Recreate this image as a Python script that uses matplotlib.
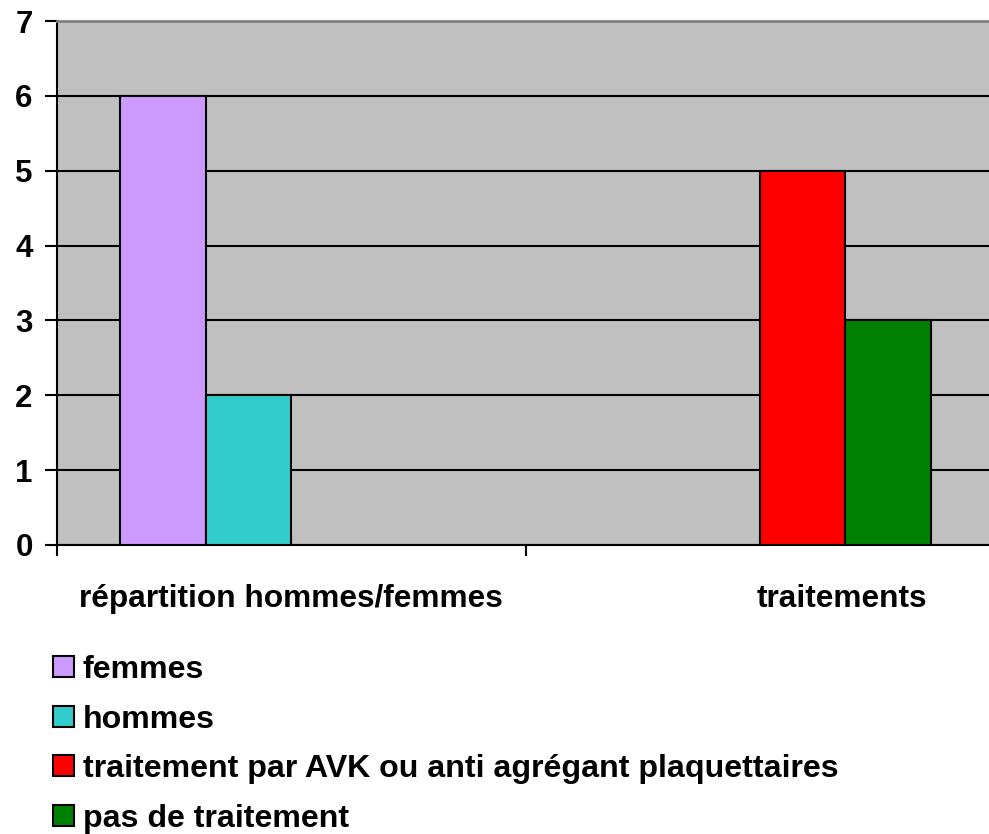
import matplotlib.pyplot as plt
import matplotlib.transforms as mtransforms
import numpy as np

# === Data ===
categories = ["répartition hommes/femmes", "traitements"]
series_names = ["femmes", "hommes",
                "traitement par AVK ou anti agrégant plaquettaires",
                "pas de traitement"]
femmes = [6, 0]
hommes = [2, 0]
avk = [0, 5]
pas_traitement = [0, 3]
colors = ["#CC99FF", "#33CCCC", "#FF0000", "#008000"]

plt.rcParams['font.family'] = ['Liberation Sans', 'DejaVu Sans']
plt.rcParams['font.weight'] = 'bold'
fs = 22.5

fig = plt.figure(figsize=(9.89, 8.34), dpi=100)
ax = fig.add_axes([57 / 989, 1 - 545 / 834, (994 - 57) / 989, (545 - 21) / 834])
ax.set_facecolor("#C0C0C0")

x = np.arange(len(categories)) + 0.5
width = 0.1825
all_series = [femmes, hommes, avk, pas_traitement]
handles = []
for i, (name, vals, col) in enumerate(zip(series_names, all_series, colors)):
    offs = (i - 1.5) * width
    for xi, v in zip(x, vals):
        if v > 0:
            ax.bar(xi + offs, v, width, color=col, edgecolor="black", linewidth=1.5, zorder=3)
    handles.append(plt.Rectangle((0, 0), 1, 1, facecolor=col, edgecolor="black", linewidth=1.5))

ax.set_xlim(0, 2)
ax.set_ylim(0, 7)
ax.set_yticks(range(0, 8))
ax.yaxis.grid(True, color="black", linewidth=1.5, zorder=1)
ax.set_axisbelow(True)

ax.set_xticks([0, 1, 2])
ax.set_xticklabels([])
ax.set_xticks(x, minor=True)
ax.set_xticklabels(categories, minor=True)
ax.tick_params(axis='x', which='minor', length=0, pad=28, labelsize=22.8)
ax.tick_params(axis='x', which='major', length=8, width=1.5, direction='out')
ax.tick_params(axis='y', length=8.5, width=1.5, labelsize=fs, pad=9)

# second category label sits right of centre in the original
lab = ax.get_xticklabels(minor=True)[1]
lab.set_transform(lab.get_transform() + mtransforms.ScaledTranslation(82 / 100, 0, fig.dpi_scale_trans))

for s in ["left", "bottom"]:
    ax.spines[s].set_color("black")
    ax.spines[s].set_linewidth(1.5)
ax.spines["top"].set_color("#808080")
ax.spines["top"].set_linewidth(2)
ax.spines["right"].set_visible(False)

fig.legend(handles, series_names, loc="upper left",
           bbox_to_anchor=(53 / 989, 1 - 655 / 834), frameon=False,
           fontsize=23.1, handlelength=0.64, handleheight=0.64,
           handletextpad=0.28, labelspacing=0.61, borderaxespad=0,
           borderpad=0)

fig.savefig("out.png", dpi=100)
